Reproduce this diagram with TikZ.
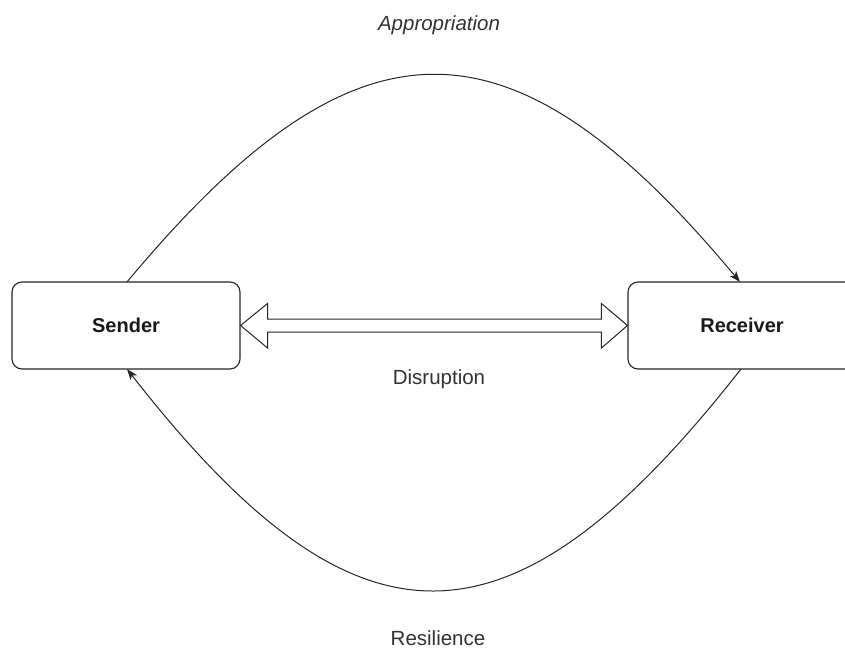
\documentclass[tikz,border=0pt]{standalone}
\usepackage{fontspec}
\setmainfont{Liberation Sans}
\usetikzlibrary{arrows.meta,calc}
\definecolor{labelgray}{HTML}{333333}
\tikzset{
  box/.style={draw=black!85, line width=1.1pt, rounded corners=10pt, minimum width=228pt, minimum height=87pt, inner sep=0pt, font=\fontsize{20}{24}\selectfont\bfseries, text=black!90},
  lbl/.style={font=\fontsize{20.5}{24}\selectfont, text=labelgray, inner sep=0pt},
  flow/.style={line width=1pt, draw=black!85, -{Stealth[length=11pt,width=8pt,inset=3pt]}},
  bigarrow/.style={line width=1pt, draw=black!85, fill=white, line join=miter}
}
\begin{document}
\begin{tikzpicture}[x=1pt,y=-1pt]
\useasboundingbox (0,0) rectangle (845,650);
\clip (0,0) rectangle (845,650);
\fill[white] (0,0) rectangle (845,650);
\node[box] (s) at (126,325.5) {Sender};
\node[box] (r) at (742,325.5) {Receiver};
\coordinate (stop) at (127,282);
\coordinate (rtop) at (740,282);
\coordinate (sbot) at (127,369);
\coordinate (rbot) at (741,369);
\draw[flow] (stop) .. controls (357,6) and (510,6) .. (rtop);
\draw[flow] (rbot) .. controls (510,664) and (357,664) .. (sbot);
\draw[bigarrow] (s.east) -- ($(s.east)+(27,-22)$) -- ($(s.east)+(27,-6.5)$)
  -- ($(r.west)+(-26,-6.5)$) -- ($(r.west)+(-26,-22)$) -- (r.west)
  -- ($(r.west)+(-26,22.5)$) -- ($(r.west)+(-26,6.5)$)
  -- ($(s.east)+(27,6.5)$) -- ($(s.east)+(27,22.5)$) -- cycle;
\node[lbl, font=\fontsize{20.5}{24}\selectfont\itshape] (ap) at (439,25) {Appropriation};
\node[lbl] (di) at (439,379) {Disruption};
\node[lbl] (re) at (438,638) {Resilience};
\end{tikzpicture}
\end{document}
